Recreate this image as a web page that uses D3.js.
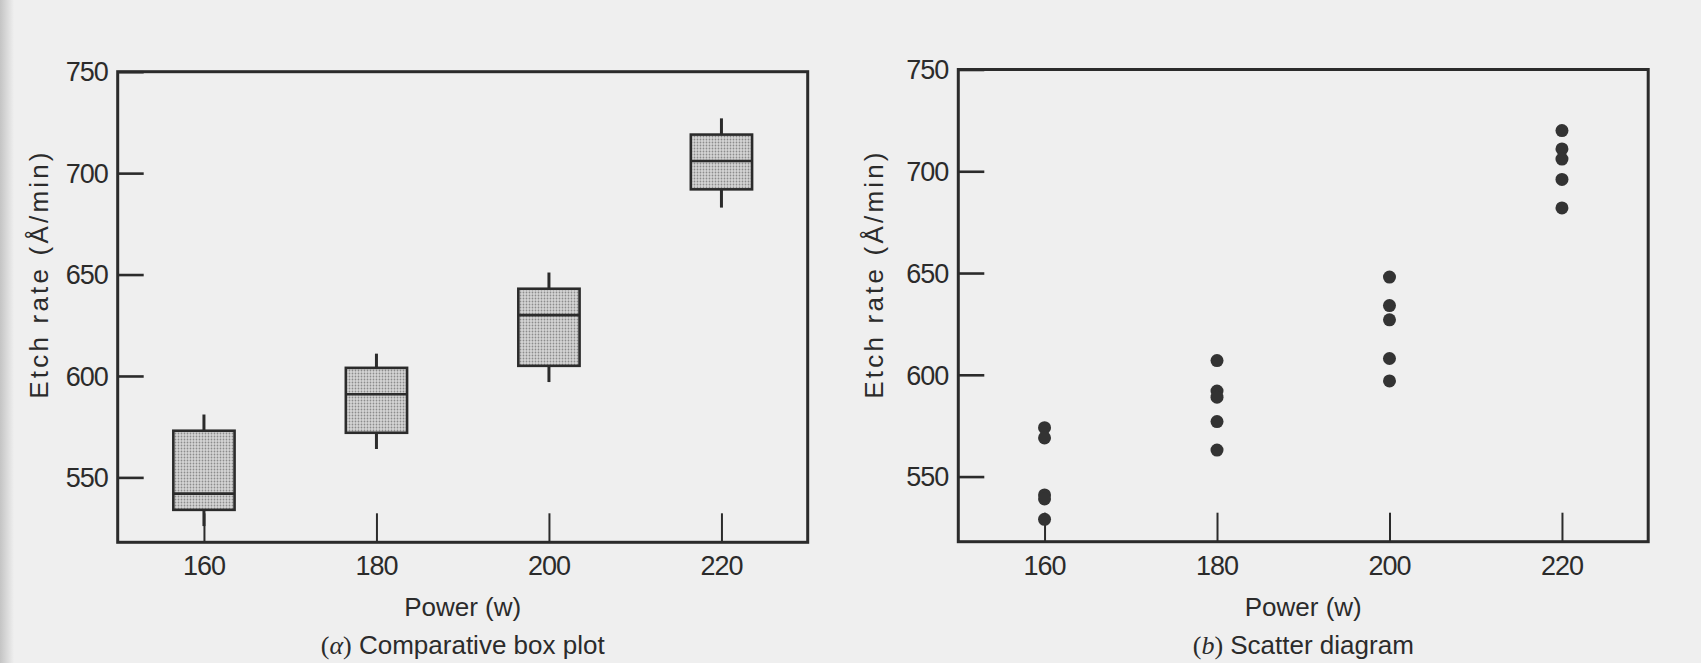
<!DOCTYPE html>
<html>
<head>
<meta charset="utf-8">
<script src="https://cdn.jsdelivr.net/npm/d3@7"></script>
<style>
  html, body { margin: 0; padding: 0; background: #efefef; }
  svg { display: block; }
</style>
</head>
<body>
<div id="chart"></div>
<script>
// etch rate data
const powers = [160, 180, 200, 220];
const boxMin = [526, 564, 597, 683];
const boxQ1 = [534, 572, 605, 692];
const boxMedian = [542, 591, 630, 706];
const boxQ3 = [573, 604, 643, 719];
const boxMax = [581, 611, 651, 727];

const etch160 = [574, 569, 541, 539, 529];
const etch180 = [607, 592, 589, 577, 563];
const etch200 = [648, 634, 627, 608, 597];
const etch220 = [720, 711, 706, 696, 682];

const yTicks = [550, 600, 650, 700, 750];
const xTicks = [160, 180, 200, 220];

const yLabel = "Etch rate (Å/min)";
const xLabel = "Power (w)";

var width = 1701, height = 663;
var ink = "#2b2b2b";
var font = "'Liberation Sans', Arial, sans-serif";

var svg = d3.select("#chart").append("svg")
    .attr("width", width)
    .attr("height", height);

// paper
svg.append("rect").attr("width", width).attr("height", height).attr("fill", "#efefef");
var edge = svg.append("defs").append("linearGradient").attr("id", "edge");
edge.append("stop").attr("offset", "0").attr("stop-color", "#c4c4c4");
edge.append("stop").attr("offset", "1").attr("stop-color", "#efefef");
svg.append("rect").attr("width", 14).attr("height", height).attr("fill", "url(#edge)");

// stipple fill for the boxes
var pat = svg.select("defs").append("pattern")
    .attr("id", "stipple")
    .attr("width", 3).attr("height", 3)
    .attr("patternUnits", "userSpaceOnUse");
pat.append("rect").attr("width", 3).attr("height", 3).attr("fill", "#d6d6d6");
pat.append("circle").attr("cx", 1.5).attr("cy", 1.5).attr("r", 0.9).attr("fill", "#8c8c8c");

function drawPanel(left, right, top, bottom, labelX, captionLetter, captionText) {
    var g = svg.append("g");

    var x = d3.scaleLinear().domain([150, 230]).range([left, right]);
    var y = d3.scaleLinear().domain([518, 750]).range([bottom, top]);

    // y ticks: short marks inside the frame
    var yAxis = d3.axisRight(y).tickValues(yTicks).tickSize(26).tickFormat("");
    g.append("g")
        .attr("transform", "translate(" + left + ",0)")
        .call(yAxis)
        .call(s => s.select(".domain").remove())
        .call(s => s.selectAll("line").attr("stroke", ink).attr("stroke-width", 2.6));

    g.selectAll(".ylab")
        .data(yTicks)
        .enter().append("text")
        .attr("x", left - 10)
        .attr("y", d => y(d))
        .attr("dy", "0.36em")
        .attr("text-anchor", "end")
        .style("font", "27px " + font)
        .style("letter-spacing", "-1px")
        .attr("fill", ink)
        .text(d => d);

    // x ticks: marks rising from the bottom of the frame
    var xAxis = d3.axisTop(x).tickValues(xTicks).tickSize(29).tickFormat("");
    g.append("g")
        .attr("transform", "translate(0," + bottom + ")")
        .call(xAxis)
        .call(s => s.select(".domain").remove())
        .call(s => s.selectAll("line").attr("stroke", ink).attr("stroke-width", 2));

    g.selectAll(".xlab")
        .data(xTicks)
        .enter().append("text")
        .attr("x", d => x(d))
        .attr("y", bottom + 33)
        .attr("text-anchor", "middle")
        .style("font", "27px " + font)
        .style("letter-spacing", "-1px")
        .attr("fill", ink)
        .text(d => d);

    // frame
    g.append("rect")
        .attr("x", left).attr("y", top)
        .attr("width", right - left).attr("height", bottom - top)
        .attr("fill", "none")
        .attr("stroke", ink)
        .attr("stroke-width", 3);

    // axis titles
    g.append("text")
        .attr("transform", "translate(" + labelX + ",274) rotate(-90)")
        .attr("text-anchor", "middle")
        .style("font", "26px " + font)
        .style("letter-spacing", "3.2px")
        .attr("fill", ink)
        .text(yLabel);

    var cx = (left + right) / 2;
    g.append("text")
        .attr("x", cx).attr("y", 616)
        .attr("text-anchor", "middle")
        .style("font", "26px " + font)
        .attr("fill", ink)
        .text(xLabel);

    var cap = g.append("text")
        .attr("x", cx).attr("y", 654)
        .attr("text-anchor", "middle")
        .style("font", "26px " + font)
        .attr("fill", ink);
    cap.append("tspan").style("font-family", "'Liberation Serif', 'DejaVu Serif', serif").text("(");
    cap.append("tspan").style("font-family", "'Liberation Serif', 'DejaVu Serif', serif")
        .style("font-style", "italic").text(captionLetter);
    cap.append("tspan").style("font-family", "'Liberation Serif', 'DejaVu Serif', serif").text(")");
    cap.append("tspan").text(" " + captionText);

    return { g: g, x: x, y: y };
}

// (a) comparative box plot
var pa = drawPanel(117.7, 807.7, 71.7, 542.3, 48, "α", "Comparative box plot");
var boxes = powers.map((p, i) => ({
    power: p, min: boxMin[i], q1: boxQ1[i], med: boxMedian[i], q3: boxQ3[i], max: boxMax[i]
}));
var halfW = 3.55;

pa.g.selectAll(".whisker-hi")
    .data(boxes).enter().append("line")
    .attr("x1", d => pa.x(d.power)).attr("x2", d => pa.x(d.power))
    .attr("y1", d => pa.y(d.max)).attr("y2", d => pa.y(d.q3))
    .attr("stroke", ink).attr("stroke-width", 3);
pa.g.selectAll(".whisker-lo")
    .data(boxes).enter().append("line")
    .attr("x1", d => pa.x(d.power)).attr("x2", d => pa.x(d.power))
    .attr("y1", d => pa.y(d.q1)).attr("y2", d => pa.y(d.min))
    .attr("stroke", ink).attr("stroke-width", 3);
pa.g.selectAll(".box")
    .data(boxes).enter().append("rect")
    .attr("x", d => pa.x(d.power - halfW))
    .attr("width", d => pa.x(d.power + halfW) - pa.x(d.power - halfW))
    .attr("y", d => pa.y(d.q3))
    .attr("height", d => pa.y(d.q1) - pa.y(d.q3))
    .attr("fill", "url(#stipple)")
    .attr("stroke", ink).attr("stroke-width", 2.6);
pa.g.selectAll(".median")
    .data(boxes).enter().append("line")
    .attr("x1", d => pa.x(d.power - halfW)).attr("x2", d => pa.x(d.power + halfW))
    .attr("y1", d => pa.y(d.med)).attr("y2", d => pa.y(d.med))
    .attr("stroke", ink).attr("stroke-width", 2.6);

// (b) scatter diagram
var pb = drawPanel(958.3, 1648.2, 69.5, 541.7, 883, "b", "Scatter diagram");
var groups = [etch160, etch180, etch200, etch220];
var points = [];
groups.forEach((vals, i) => vals.forEach(v => points.push({ power: powers[i], rate: v })));

pb.g.selectAll(".dot")
    .data(points).enter().append("circle")
    .attr("cx", d => pb.x(d.power))
    .attr("cy", d => pb.y(d.rate))
    .attr("r", 6.5)
    .attr("fill", "#333");
</script>
</body>
</html>
